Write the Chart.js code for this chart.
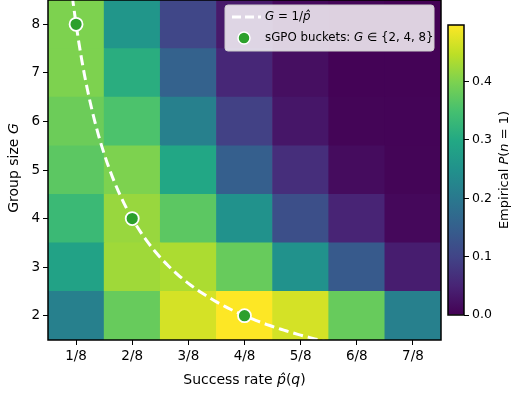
<!DOCTYPE html>
<html>
<head>
<meta charset="utf-8">
<script src="https://cdn.jsdelivr.net/npm/chart.js@4"></script>
<style>
  html, body { margin: 0; padding: 0; background: #fff; }
  #wrap { position: relative; width: 512px; height: 396px; }
  #main { position: absolute; left: 0; top: 0; }
  #cbar { position: absolute; left: 440px; top: 0; }
</style>
</head>
<body>
<div id="wrap">
  <canvas id="main" width="512" height="396"></canvas>
  <canvas id="cbar" width="72" height="396"></canvas>
</div>
<script>
// Categories
const rateLabels = ["1/8", "2/8", "3/8", "4/8", "5/8", "6/8", "7/8"];
const groupSizes = [2, 3, 4, 5, 6, 7, 8];

// Empirical P(n = 1), one array per group size, columns follow rateLabels
const probG2 = [0.215, 0.38, 0.465, 0.497, 0.465, 0.38, 0.215];
const probG3 = [0.285, 0.425, 0.435, 0.38, 0.25, 0.14, 0.04];
const probG4 = [0.335, 0.42, 0.37, 0.25, 0.12, 0.05, 0.01];
const probG5 = [0.37, 0.40, 0.295, 0.15, 0.065, 0.015, 0.005];
const probG6 = [0.385, 0.355, 0.215, 0.095, 0.03, 0.005, 0.004];
const probG7 = [0.40, 0.31, 0.155, 0.055, 0.02, 0.003, 0.003];
const probG8 = [0.40, 0.26, 0.105, 0.035, 0.012, 0.005, 0.002];

// sGPO buckets (x = success count k of 8, y = G)
const bucketRates = [1, 2, 4];
const bucketSizes = [8, 4, 2];

// Colorbar ticks
const cbTicks = [0, 0.1, 0.2, 0.3, 0.4];

const rows = [probG2, probG3, probG4, probG5, probG6, probG7, probG8];
const vmax = Math.max(...rows.flat());

// viridis colormap
const VIRIDIS = ["#440154", "#482475", "#414487", "#355f8d", "#2a788e", "#21918c",
                 "#22a884", "#44bf70", "#7ad151", "#bddf26", "#fde725"];
const hex = (h) => [1, 3, 5].map(i => parseInt(h.slice(i, i + 2), 16));
function viridis(t) {
  t = Math.min(1, Math.max(0, t));
  const s = t * 10;
  const i = Math.min(9, Math.floor(s));
  const f = s - i;
  const a = hex(VIRIDIS[i]), b = hex(VIRIDIS[i + 1]);
  const c = a.map((v, j) => Math.round(v + (b[j] - v) * f));
  return `rgb(${c[0]},${c[1]},${c[2]})`;
}

// reference curve G = 1/p_hat, with p_hat = k/8
const curvePoints = [];
for (let k = 0.9; k <= 5.7; k += 0.05) curvePoints.push({ x: k, y: 8 / k });

const FONT = '"DejaVu Sans", sans-serif';

// draws text where some pieces are italic (math letters)
function drawRich(ctx, parts, x, y, size, align, rotate) {
  ctx.save();
  ctx.translate(x, y);
  ctx.rotate(rotate || 0);
  ctx.textBaseline = "middle";
  ctx.textAlign = "left";
  ctx.fillStyle = "#000";
  let total = 0;
  parts.forEach(p => {
    ctx.font = (p.it ? "italic " : "") + size + "px " + FONT;
    p.w = ctx.measureText(p.t).width;
    total += p.w;
  });
  let cur = align === "left" ? 0 : -total / 2;
  parts.forEach(p => {
    ctx.font = (p.it ? "italic " : "") + size + "px " + FONT;
    ctx.fillText(p.t, cur, 0);
    cur += p.w;
  });
  ctx.restore();
}

const framePlugin = {
  id: "frame",
  afterDraw(chart) {
    const ctx = chart.ctx;
    const a = chart.chartArea;
    ctx.save();
    ctx.strokeStyle = "#000";
    ctx.lineWidth = 1.5;
    ctx.strokeRect(a.left, a.top, a.right - a.left, a.bottom - a.top);

    // legend box
    const lx = 225, ly = 5, lw = 209, lh = 46;
    ctx.beginPath();
    ctx.roundRect(lx, ly, lw, lh, 3);
    ctx.fillStyle = "rgba(255,255,255,0.82)";
    ctx.fill();
    ctx.strokeStyle = "#cccccc";
    ctx.lineWidth = 1;
    ctx.stroke();

    ctx.beginPath();
    ctx.setLineDash([9, 4]);
    ctx.strokeStyle = "#fff";
    ctx.lineWidth = 3;
    ctx.moveTo(232, 17);
    ctx.lineTo(261, 17);
    ctx.stroke();
    ctx.setLineDash([]);

    ctx.beginPath();
    ctx.arc(244, 38, 6, 0, Math.PI * 2);
    ctx.fillStyle = "#2ca02c";
    ctx.fill();
    ctx.strokeStyle = "#fff";
    ctx.lineWidth = 1.5;
    ctx.stroke();
    ctx.restore();

    drawRich(ctx, [{ t: "G", it: 1 }, { t: " = 1/" }, { t: "p\u0302", it: 1 }], 265, 17, 11.8, "left");
    drawRich(ctx, [{ t: "sGPO buckets: " }, { t: "G", it: 1 }, { t: " \u2208 {2, 4, 8}" }], 265, 38, 11.8, "left");

    // axis titles
    drawRich(ctx, [{ t: "Success rate " }, { t: "p\u0302", it: 1 }, { t: "(" }, { t: "q", it: 1 }, { t: ")" }],
             (a.left + a.right) / 2, 380, 14, "center");
    drawRich(ctx, [{ t: "Group size " }, { t: "G", it: 1 }], 14, 168, 14, "center", -Math.PI / 2);
  }
};

const cellSets = rows.map((vals, i) => ({
  type: "bar",
  xAxisID: "x",
  yAxisID: "y",
  data: vals.map(() => [groupSizes[i] - 0.5, groupSizes[i] + 0.5]),
  backgroundColor: vals.map(v => viridis(v / vmax)),
  borderWidth: 0,
  grouped: false,
  barPercentage: 1,
  categoryPercentage: 1,
  order: 3
}));

new Chart(document.getElementById("main"), {
  type: "bar",
  data: {
    labels: rateLabels,
    datasets: [
      ...cellSets,
      {
        type: "line",
        xAxisID: "x2",
        yAxisID: "y",
        data: curvePoints,
        borderColor: "#fff",
        borderWidth: 3,
        borderDash: [10, 5],
        pointRadius: 0,
        tension: 0,
        order: 2
      },
      {
        type: "line",
        xAxisID: "x2",
        yAxisID: "y",
        data: bucketRates.map((k, i) => ({ x: k, y: bucketSizes[i] })),
        showLine: false,
        pointRadius: 6.5,
        pointBackgroundColor: "#2ca02c",
        pointBorderColor: "#fff",
        pointBorderWidth: 1.8,
        order: 1
      }
    ]
  },
  options: {
    responsive: false,
    animation: false,
    devicePixelRatio: 1,
    layout: { autoPadding: false, padding: { left: 0, right: 71, top: 0, bottom: 0 } },
    plugins: { legend: { display: false }, tooltip: { enabled: false } },
    scales: {
      x: {
        type: "category",
        offset: true,
        grid: { offset: false, drawOnChartArea: false, tickLength: 5, color: "#000", lineWidth: 1 },
        border: { display: false },
        ticks: { color: "#000", font: { family: FONT, size: 13.5 }, padding: 3, maxRotation: 0 },
        afterFit: (s) => { s.height = 56; s.paddingLeft = 0; s.paddingRight = 0; }
      },
      x2: { type: "linear", min: 0.5, max: 7.5, offset: false, display: false },
      y: {
        type: "linear",
        min: 1.5,
        max: 8.5,
        afterBuildTicks: (s) => { s.ticks = groupSizes.map(v => ({ value: v })); },
        grid: { drawOnChartArea: false, tickLength: 5, color: "#000", lineWidth: 1 },
        border: { display: false },
        ticks: { color: "#000", font: { family: FONT, size: 13.5 }, padding: 3, callback: (v) => String(v) },
        afterFit: (s) => { s.width = 48; s.paddingTop = 0; s.paddingBottom = 0; }
      }
    }
  },
  plugins: [framePlugin]
});

// colorbar
const cbarPlugin = {
  id: "cbarFrame",
  afterDraw(chart) {
    const ctx = chart.ctx;
    const a = chart.chartArea;
    ctx.save();
    ctx.strokeStyle = "#000";
    ctx.lineWidth = 1.5;
    ctx.strokeRect(a.left, a.top, a.right - a.left, a.bottom - a.top);
    ctx.restore();
    drawRich(ctx, [{ t: "Empirical " }, { t: "P", it: 1 }, { t: "(" }, { t: "n", it: 1 }, { t: " = 1)" }],
             65, 170, 13, "center", -Math.PI / 2);
  }
};

new Chart(document.getElementById("cbar"), {
  type: "bar",
  data: {
    labels: [""],
    datasets: [{
      data: [[0, vmax]],
      backgroundColor: (c) => {
        const a = c.chart.chartArea;
        if (!a) return "#440154";
        const g = c.chart.ctx.createLinearGradient(0, a.bottom, 0, a.top);
        VIRIDIS.forEach((col, i) => g.addColorStop(i / 10, col));
        return g;
      },
      borderWidth: 0,
      barPercentage: 1,
      categoryPercentage: 1
    }]
  },
  options: {
    responsive: false,
    animation: false,
    devicePixelRatio: 1,
    layout: { padding: { left: 8, right: 0, top: 25, bottom: 81 } },
    plugins: { legend: { display: false }, tooltip: { enabled: false } },
    scales: {
      x: { display: false },
      y: {
        position: "right",
        min: 0,
        max: vmax,
        afterBuildTicks: (s) => { s.ticks = cbTicks.map(v => ({ value: v })); },
        grid: { drawOnChartArea: false, tickLength: 5, color: "#000", lineWidth: 1 },
        border: { display: false },
        ticks: { color: "#000", font: { family: FONT, size: 12.5 }, padding: 3, callback: (v) => v.toFixed(1) },
        afterFit: (s) => { s.width = 48; }
      }
    }
  },
  plugins: [cbarPlugin]
});
</script>
</body>
</html>
